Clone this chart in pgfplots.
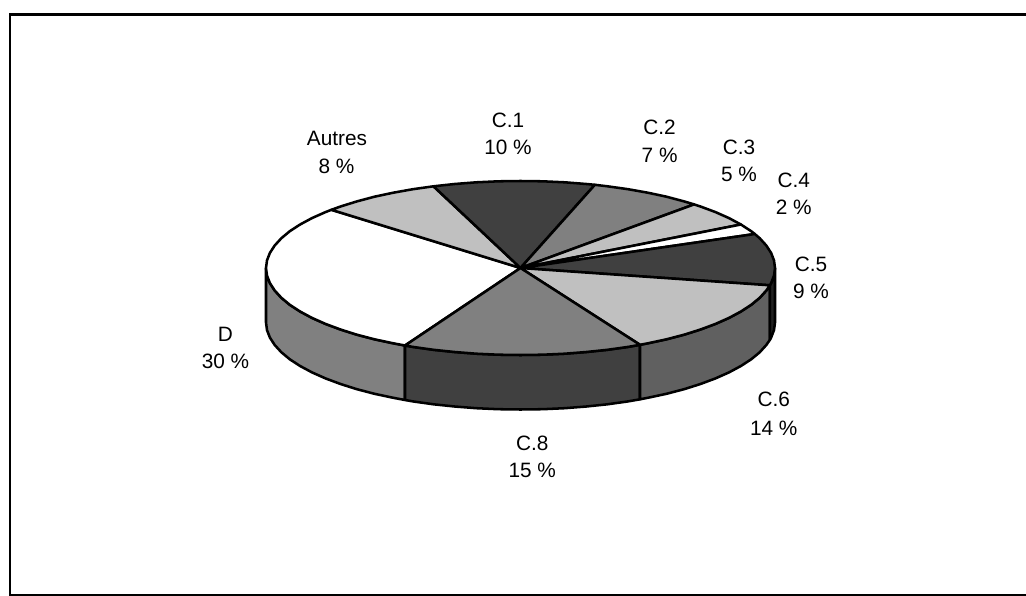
\documentclass[border=0pt]{standalone}
\usepackage{fontspec}
\setmainfont{Liberation Sans}
\usepackage{pgfplots}
\pgfplotsset{compat=1.18}
\definecolor{gA}{HTML}{C0C0C0}
\definecolor{gB}{HTML}{808080}
\definecolor{gC}{HTML}{404040}
\definecolor{gD}{HTML}{606060}
\definecolor{gE}{HTML}{202020}
\newcommand{\lab}[3]{\node[anchor=base,inner sep=0pt,font=\fontsize{15.6}{18}\selectfont] at (axis cs:#1,#2) {#3};}
\begin{document}
\begin{tikzpicture}
\useasboundingbox (0,0) rectangle (769.5pt,447pt);
\begin{axis}[
  at={(0,0)}, anchor=south west,
  scale only axis, width=769.5pt, height=447pt,
  xmin=0, xmax=1026, ymin=0, ymax=596, y dir=reverse,
  axis lines=none, clip=true,
  every axis plot/.append style={no markers, draw=black, line width=1.9pt, line join=round, line cap=round},
]
% outer frame, open on the right
\addplot[fill=none, line width=2pt, line join=miter] coordinates {(1030,14.3) (10,14.3) (10,595.8) (1030,595.8)};

% rim of the disc
\addplot[fill=gB] coordinates {
 (266.0,268.0) (267.0,275.6) (269.9,283.1) (274.7,290.5) (281.4,297.8) (289.8,304.8) (300.1,311.5) (312.0,317.9) (325.5,323.9) (340.5,329.5) (356.9,334.7) (374.5,339.3) (393.3,343.3) (405.0,345.5)
 (405.0,400.0) (393.3,397.8) (374.5,393.8) (356.9,389.2) (340.5,384.0) (325.5,378.4) (312.0,372.4) (300.1,366.0) (289.8,359.3) (281.4,352.3) (274.7,345.0) (269.9,337.6) (267.0,330.1) (266.0,322.5)
} -- cycle;
\addplot[fill=gC] coordinates {
 (405.0,345.5) (412.9,346.9) (433.5,349.8) (454.6,352.0) (476.3,353.7) (498.3,354.7) (520.5,355.0) (542.7,354.7) (564.7,353.7) (586.4,352.0) (607.5,349.8) (628.1,346.9) (640.0,344.8)
 (640.0,399.3) (628.1,401.4) (607.5,404.3) (586.4,406.5) (564.7,408.2) (542.7,409.2) (520.5,409.5) (498.3,409.2) (476.3,408.2) (454.6,406.5) (433.5,404.3) (412.9,401.4) (405.0,400.0)
} -- cycle;
\addplot[fill=gD] coordinates {
 (640.0,344.8) (647.8,343.3) (666.5,339.3) (684.1,334.7) (700.5,329.5) (715.5,323.9) (729.0,317.9) (740.9,311.5) (751.2,304.8) (759.7,297.8) (766.3,290.5) (769.9,285.3)
 (769.9,339.8) (766.3,345.0) (759.7,352.3) (751.2,359.3) (740.9,366.0) (729.0,372.4) (715.5,378.4) (700.5,384.0) (684.1,389.2) (666.5,393.8) (647.8,397.8) (640.0,399.3)
} -- cycle;
\addplot[fill=gE] coordinates {
 (769.9,285.3) (771.1,283.1) (774.0,275.6) (775.0,268.0)
 (775.0,322.5) (774.0,330.1) (771.1,337.6) (769.9,339.8)
} -- cycle;

% top face: D, 30 %
\addplot[fill=white] coordinates {
 (520.5,268) (405.0,345.5) (393.3,343.3) (374.5,339.3) (356.9,334.7) (340.5,329.5) (325.5,323.9) (312.0,317.9) (300.1,311.5) (289.8,304.8) (281.4,297.8) (274.7,290.5) (269.9,283.1) (267.0,275.6) (266.0,268.0) (267.0,260.4) (269.9,252.9) (274.7,245.5) (281.4,238.2) (289.8,231.2) (300.1,224.5) (312.0,218.1) (325.5,212.1) (331.4,209.8)
} -- cycle;
% Autres, 8 %
\addplot[fill=gA] coordinates {
 (520.5,268) (331.4,209.8) (340.5,206.5) (356.9,201.4) (374.5,196.7) (393.3,192.7) (412.9,189.2) (433.5,186.3)
} -- cycle;
% C.1, 10 %
\addplot[fill=gC] coordinates {
 (520.5,268) (433.5,186.3) (454.6,184.0) (476.3,182.3) (498.3,181.3) (520.5,181.0) (542.7,181.3) (564.7,182.3) (586.4,184.0) (594.9,184.8)
} -- cycle;
% C.2, 7 %
\addplot[fill=gB] coordinates {
 (520.5,268) (594.9,184.8) (607.5,186.3) (628.1,189.2) (647.8,192.7) (666.5,196.7) (684.1,201.4) (694.1,204.4)
} -- cycle;
% C.3, 5 %
\addplot[fill=gA] coordinates {
 (520.5,268) (694.1,204.4) (700.5,206.5) (715.5,212.1) (729.0,218.1) (740.9,224.5)
} -- cycle;
% C.4, 2 %
\addplot[fill=white] coordinates {
 (520.5,268) (740.9,224.5) (751.2,231.2) (754.8,234.0)
} -- cycle;
% C.5, 9 %
\addplot[fill=gC] coordinates {
 (520.5,268) (754.8,234.0) (759.7,238.2) (766.3,245.5) (771.1,252.9) (774.0,260.4) (775.0,268.0) (774.0,275.6) (771.1,283.1) (769.9,285.3)
} -- cycle;
% C.6, 14 %
\addplot[fill=gA] coordinates {
 (520.5,268) (769.9,285.3) (766.3,290.5) (759.7,297.8) (751.2,304.8) (740.9,311.5) (729.0,317.9) (715.5,323.9) (700.5,329.5) (684.1,334.7) (666.5,339.3) (647.8,343.3) (640.0,344.8)
} -- cycle;
% C.8, 15 %
\addplot[fill=gB] coordinates {
 (520.5,268) (640.0,344.8) (628.1,346.9) (607.5,349.8) (586.4,352.0) (564.7,353.7) (542.7,354.7) (520.5,355.0) (498.3,354.7) (476.3,353.7) (454.6,352.0) (433.5,349.8) (412.9,346.9) (405.0,345.5)
} -- cycle;

% slice captions
\lab{337}{145.7}{Autres}
\lab{336.5}{173.3}{8 \%}
\lab{508}{127.3}{C.1}
\lab{508}{154.3}{10 \%}
\lab{659.6}{134.3}{C.2}
\lab{659.6}{162}{7 \%}
\lab{739}{154}{C.3}
\lab{739}{181}{5 \%}
\lab{793.7}{187.3}{C.4}
\lab{793.7}{214.3}{2 \%}
\lab{811}{271}{C.5}
\lab{811}{298.3}{9 \%}
\lab{773.8}{406.7}{C.6}
\lab{773.8}{435}{14 \%}
\lab{532.3}{450}{C.8}
\lab{532.3}{477.7}{15 \%}
\lab{225.5}{341}{D}
\lab{225.5}{368.3}{30 \%}
\end{axis}
\end{tikzpicture}
\end{document}
